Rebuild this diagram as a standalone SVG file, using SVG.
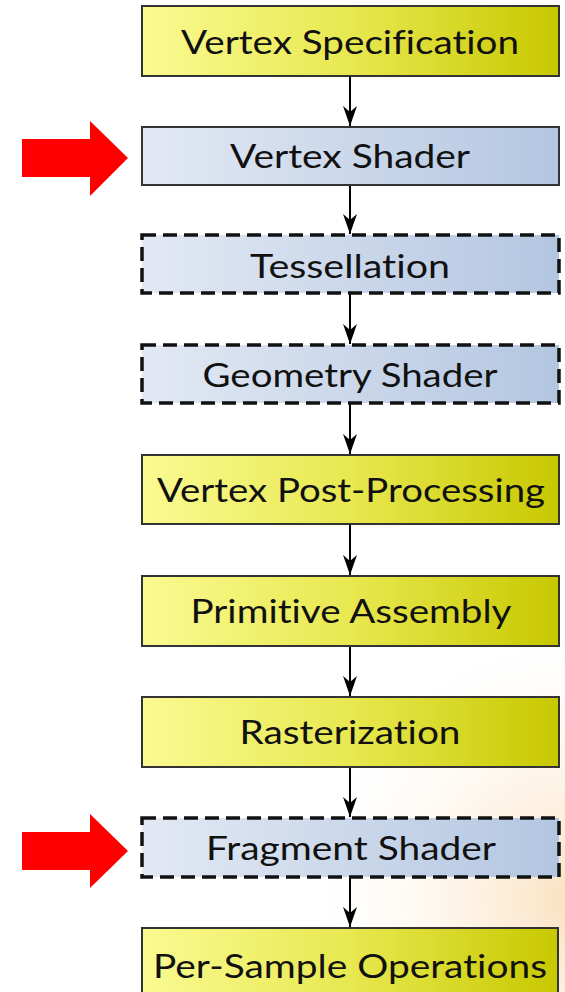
<svg xmlns="http://www.w3.org/2000/svg" width="565" height="992" viewBox="0 0 565 992">
<defs>
<linearGradient id="gy" x1="0" y1="0" x2="1" y2="0">
<stop offset="0" stop-color="#FAFA92"/>
<stop offset="0.5" stop-color="#E8E850"/>
<stop offset="1" stop-color="#C8C800"/>
</linearGradient>
<linearGradient id="gb" x1="0" y1="0" x2="1" y2="0">
<stop offset="0" stop-color="#E3E9F4"/>
<stop offset="1" stop-color="#B3C6E1"/>
</linearGradient>
<radialGradient id="glow" cx="580" cy="900" r="280" gradientUnits="userSpaceOnUse">
<stop offset="0" stop-color="#F6C07A" stop-opacity="0.5"/>
<stop offset="0.45" stop-color="#FAD9AE" stop-opacity="0.28"/>
<stop offset="1" stop-color="#FFFFFF" stop-opacity="0"/>
</radialGradient>
<marker id="ah" viewBox="0 0 20 14" refX="20" refY="7" markerWidth="20" markerHeight="14" markerUnits="userSpaceOnUse" orient="auto">
<path d="M0,0 L6,7 L0,14 L20,7 Z" fill="#000"/>
</marker>
</defs>
<style>
.y{fill:url(#gy);stroke:#333;stroke-width:2}
.b{fill:url(#gb);stroke:#333;stroke-width:2}
.d{fill:url(#gb);stroke:#111;stroke-width:3.5;stroke-dasharray:14 7}
.t{font-family:Lato,"Open Sans","Liberation Sans",sans-serif;font-size:33px;fill:#111;text-anchor:middle;font-variant-ligatures:none}
.c{stroke:#000;stroke-width:2;fill:none;marker-end:url(#ah)}
.r{fill:#FF0000}
</style>
<rect width="565" height="992" fill="#fff"/>
<rect width="565" height="992" fill="url(#glow)"/>
<g id="connectors">
<line class="c" x1="350" y1="77" x2="350" y2="126"/>
<line class="c" x1="350" y1="186" x2="350" y2="234"/>
<line class="c" x1="350" y1="294" x2="350" y2="344"/>
<line class="c" x1="350" y1="404" x2="350" y2="454"/>
<line class="c" x1="350" y1="525" x2="350" y2="575"/>
<line class="c" x1="350" y1="647" x2="350" y2="696"/>
<line class="c" x1="350" y1="768" x2="350" y2="817"/>
<line class="c" x1="350" y1="878" x2="350" y2="927"/>
</g>
<g id="n1"><rect class="y" x="142" y="6" width="417" height="70"/><text class="t" x="350" y="54" textLength="338" lengthAdjust="spacingAndGlyphs">Vertex Specification</text></g>
<g id="n2"><rect class="b" x="142" y="127" width="417" height="58"/><text class="t" x="350" y="168" textLength="240" lengthAdjust="spacingAndGlyphs">Vertex Shader</text></g>
<g id="n3"><rect class="d" x="142" y="235" width="417" height="58"/><text class="t" x="350" y="278" textLength="200" lengthAdjust="spacingAndGlyphs">Tessellation</text></g>
<g id="n4"><rect class="d" x="142" y="345" width="417" height="58"/><text class="t" x="350" y="387" textLength="295" lengthAdjust="spacingAndGlyphs">Geometry Shader</text></g>
<g id="n5"><rect class="y" x="142" y="455" width="417" height="69"/><text class="t" x="351" y="502" textLength="388" lengthAdjust="spacingAndGlyphs">Vertex Post-Processing</text></g>
<g id="n6"><rect class="y" x="142" y="576" width="417" height="70"/><text class="t" x="351" y="623" textLength="321" lengthAdjust="spacingAndGlyphs">Primitive Assembly</text></g>
<g id="n7"><rect class="y" x="142" y="697" width="417" height="70"/><text class="t" x="350" y="744" textLength="221" lengthAdjust="spacingAndGlyphs">Rasterization</text></g>
<g id="n8"><rect class="d" x="142" y="818" width="417" height="59"/><text class="t" x="351" y="860" textLength="290" lengthAdjust="spacingAndGlyphs">Fragment Shader</text></g>
<g id="n9"><rect class="y" x="142" y="928" width="416" height="72"/><text class="t" x="350" y="978" textLength="394" lengthAdjust="spacingAndGlyphs">Per-Sample Operations</text></g>
<g id="redarrow1"><polygon class="r" points="22,139 90,139 90,121 128,158 90,196 90,177 22,177"/></g>
<g id="redarrow2"><polygon class="r" points="22,832 90,832 90,814 128,851 90,888 90,870 22,870"/></g>
</svg>
